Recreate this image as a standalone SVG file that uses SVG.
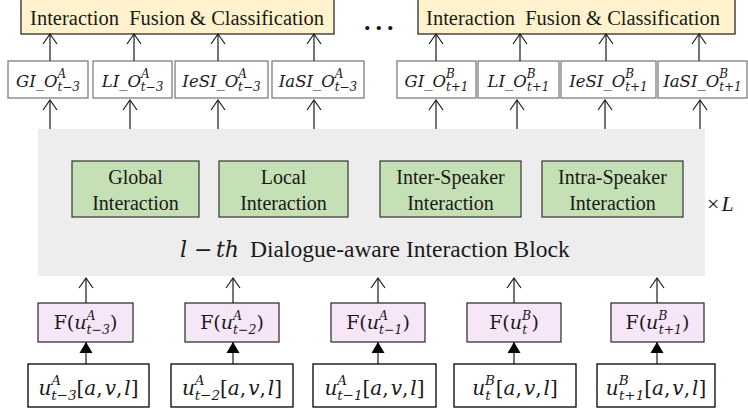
<svg xmlns="http://www.w3.org/2000/svg" width="748" height="410" viewBox="0 0 748 410">
<style>
.bg{fill:#ffffff}
.blk{fill:#ededed;stroke:none}
.fus{fill:#fff2cc;stroke:#1a1a1a;stroke-width:1.2}
.obox{fill:#ffffff;stroke:#7f7f7f;stroke-width:1.3}
.grn{fill:#c5e0b4;stroke:#333333;stroke-width:1.2}
.fbox{fill:#f7e6f7;stroke:#262626;stroke-width:1.2}
.ibox{fill:#ffffff;stroke:#000000;stroke-width:1.3}
.t{font-family:"Liberation Serif","Times New Roman",serif;fill:#1a1a1a}
.m{font-family:"DejaVu Serif",serif;fill:#1a1a1a}
.i{font-style:italic}
.c{text-anchor:middle}
.conn line{stroke:#1a1a1a;stroke-width:1.2}
.open{marker-end:url(#openArrow)}
.fill{marker-end:url(#fillArrow)}
</style>
<defs>
<marker id="openArrow" markerUnits="userSpaceOnUse" markerWidth="20" markerHeight="20" refX="0" refY="0" orient="auto" overflow="visible">
<path d="M-10,-7 L0,0 L-10,7" fill="none" stroke="#1a1a1a" stroke-width="1.2"/>
</marker>
<marker id="fillArrow" markerUnits="userSpaceOnUse" markerWidth="20" markerHeight="20" refX="0" refY="0" orient="auto" overflow="visible">
<path d="M-11,-6.5 L0,0 L-11,6.5 Z" fill="#000000"/>
</marker>
</defs>
<rect class="bg" x="0" y="0" width="748" height="410"/>

<g id="block">
<rect class="blk" x="38" y="129" width="667" height="147"/>
<text class="m i" x="180" y="257" font-size="22">l</text>
<text class="m" x="194" y="257" font-size="22">−</text>
<text class="m i" x="216" y="257" font-size="22">th</text>
<text class="t" x="250" y="257" font-size="23.5">Dialogue-aware Interaction Block</text>
</g>
<g id="timesL">
<text class="t" x="707" y="211" font-size="22">×<tspan class="i" dx="2">L</tspan></text>
</g>

<g id="fusionA">
<rect class="fus" x="21" y="-2" width="313" height="36"/>
<text class="t c" x="177" y="25" font-size="20.5" xml:space="preserve">Interaction  Fusion &amp; Classification</text>
</g>
<g id="dots">
<text class="t" x="364" y="30" font-size="26" font-weight="bold" letter-spacing="5">...</text>
</g>
<g id="fusionB">
<rect class="fus" x="418" y="-2" width="317" height="36"/>
<text class="t c" x="573" y="25" font-size="20.5" xml:space="preserve">Interaction  Fusion &amp; Classification</text>
</g>

<g id="oA1"><rect class="obox" x="8" y="61" width="80" height="37"/>
<text class="m i c" x="48" y="87" font-size="16.5">GI_O<tspan font-size="12" dy="-9">A</tspan><tspan font-size="12" dx="-8.6" dy="13">t−3</tspan></text></g>
<g id="oA2"><rect class="obox" x="93" y="61" width="79" height="37"/>
<text class="m i c" x="132.5" y="87" font-size="16.5">LI_O<tspan font-size="12" dy="-9">A</tspan><tspan font-size="12" dx="-8.6" dy="13">t−3</tspan></text></g>
<g id="oA3"><rect class="obox" x="175" y="61" width="93" height="37"/>
<text class="m i c" x="221.5" y="87" font-size="16.5">IeSI_O<tspan font-size="12" dy="-9">A</tspan><tspan font-size="12" dx="-8.6" dy="13">t−3</tspan></text></g>
<g id="oA4"><rect class="obox" x="272" y="61" width="92" height="37"/>
<text class="m i c" x="318" y="87" font-size="16.5">IaSI_O<tspan font-size="12" dy="-9">A</tspan><tspan font-size="12" dx="-8.6" dy="13">t−3</tspan></text></g>

<g id="oB1"><rect class="obox" x="397" y="61" width="79" height="37"/>
<text class="m i c" x="436.5" y="87" font-size="16.5">GI_O<tspan font-size="12" dy="-9">B</tspan><tspan font-size="12" dx="-8.8" dy="13">t+1</tspan></text></g>
<g id="oB2"><rect class="obox" x="478" y="61" width="81" height="37"/>
<text class="m i c" x="518.5" y="87" font-size="16.5">LI_O<tspan font-size="12" dy="-9">B</tspan><tspan font-size="12" dx="-8.8" dy="13">t+1</tspan></text></g>
<g id="oB3"><rect class="obox" x="561" y="61" width="95" height="37"/>
<text class="m i c" x="608.5" y="87" font-size="16.5">IeSI_O<tspan font-size="12" dy="-9">B</tspan><tspan font-size="12" dx="-8.8" dy="13">t+1</tspan></text></g>
<g id="oB4"><rect class="obox" x="658" y="61" width="89" height="37"/>
<text class="m i c" x="702.5" y="87" font-size="16.5">IaSI_O<tspan font-size="12" dy="-9">B</tspan><tspan font-size="12" dx="-8.8" dy="13">t+1</tspan></text></g>

<g id="global"><rect class="grn" x="72" y="161" width="127" height="56"/>
<text class="t c" x="135.5" y="184" font-size="20">Global</text>
<text class="t c" x="135.5" y="210" font-size="20">Interaction</text></g>
<g id="local"><rect class="grn" x="219" y="161" width="129" height="56"/>
<text class="t c" x="283.5" y="184" font-size="20">Local</text>
<text class="t c" x="283.5" y="210" font-size="20">Interaction</text></g>
<g id="inter"><rect class="grn" x="380" y="161" width="141" height="56"/>
<text class="t c" x="450.5" y="184" font-size="20">Inter-Speaker</text>
<text class="t c" x="450.5" y="210" font-size="20">Interaction</text></g>
<g id="intra"><rect class="grn" x="542" y="161" width="141" height="56"/>
<text class="t c" x="612.5" y="184" font-size="20">Intra-Speaker</text>
<text class="t c" x="612.5" y="210" font-size="20">Interaction</text></g>

<g id="f1"><rect class="fbox" x="38" y="303" width="95" height="39"/>
<text class="m c" x="85.5" y="329" font-size="19">F(<tspan class="i">u</tspan><tspan class="i" font-size="12.5" dy="-9.5">A</tspan><tspan class="i" font-size="12.5" dx="-8.9" dy="14.5">t−3</tspan><tspan dy="-5">)</tspan></text></g>
<g id="f2"><rect class="fbox" x="185" y="303" width="94" height="39"/>
<text class="m c" x="232" y="329" font-size="19">F(<tspan class="i">u</tspan><tspan class="i" font-size="12.5" dy="-9.5">A</tspan><tspan class="i" font-size="12.5" dx="-8.9" dy="14.5">t−2</tspan><tspan dy="-5">)</tspan></text></g>
<g id="f3"><rect class="fbox" x="331" y="303" width="94" height="39"/>
<text class="m c" x="378" y="329" font-size="19">F(<tspan class="i">u</tspan><tspan class="i" font-size="12.5" dy="-9.5">A</tspan><tspan class="i" font-size="12.5" dx="-8.9" dy="14.5">t−1</tspan><tspan dy="-5">)</tspan></text></g>
<g id="f4"><rect class="fbox" x="467" y="303" width="94" height="39"/>
<text class="m c" x="514" y="329" font-size="19">F(<tspan class="i">u</tspan><tspan class="i" font-size="12.5" dy="-9.5">B</tspan><tspan class="i" font-size="12.5" dx="-8.9" dy="14.5">t</tspan><tspan dx="4" dy="-5">)</tspan></text></g>
<g id="f5"><rect class="fbox" x="611" y="303" width="93" height="39"/>
<text class="m c" x="657.5" y="329" font-size="19">F(<tspan class="i">u</tspan><tspan class="i" font-size="12.5" dy="-9.5">B</tspan><tspan class="i" font-size="12.5" dx="-8.9" dy="14.5">t+1</tspan><tspan dy="-5">)</tspan></text></g>

<g id="in1"><rect class="ibox" x="28" y="364" width="121" height="43"/>
<text class="m c" x="88.5" y="395" font-size="20"><tspan class="i">u</tspan><tspan class="i" font-size="13.5" dy="-10.5">A</tspan><tspan class="i" font-size="13.5" dx="-9.7" dy="15.5">t−3</tspan><tspan dy="-5">[</tspan><tspan class="i">a</tspan>,<tspan class="i" dx="2">v</tspan>,<tspan class="i" dx="2">l</tspan>]</text></g>
<g id="in2"><rect class="ibox" x="171" y="364" width="122" height="43"/>
<text class="m c" x="232" y="395" font-size="20"><tspan class="i">u</tspan><tspan class="i" font-size="13.5" dy="-10.5">A</tspan><tspan class="i" font-size="13.5" dx="-9.7" dy="15.5">t−2</tspan><tspan dy="-5">[</tspan><tspan class="i">a</tspan>,<tspan class="i" dx="2">v</tspan>,<tspan class="i" dx="2">l</tspan>]</text></g>
<g id="in3"><rect class="ibox" x="313" y="364" width="123" height="43"/>
<text class="m c" x="374.5" y="395" font-size="20"><tspan class="i">u</tspan><tspan class="i" font-size="13.5" dy="-10.5">A</tspan><tspan class="i" font-size="13.5" dx="-9.7" dy="15.5">t−1</tspan><tspan dy="-5">[</tspan><tspan class="i">a</tspan>,<tspan class="i" dx="2">v</tspan>,<tspan class="i" dx="2">l</tspan>]</text></g>
<g id="in4"><rect class="ibox" x="454" y="364" width="122" height="43"/>
<text class="m c" x="515" y="395" font-size="20"><tspan class="i">u</tspan><tspan class="i" font-size="13.5" dy="-10.5">B</tspan><tspan class="i" font-size="13.5" dx="-9.7" dy="15.5">t</tspan><tspan dx="5" dy="-5">[</tspan><tspan class="i">a</tspan>,<tspan class="i" dx="2">v</tspan>,<tspan class="i" dx="2">l</tspan>]</text></g>
<g id="in5"><rect class="ibox" x="597" y="364" width="118" height="43"/>
<text class="m c" x="656" y="395" font-size="20"><tspan class="i">u</tspan><tspan class="i" font-size="13.5" dy="-10.5">B</tspan><tspan class="i" font-size="13.5" dx="-9.7" dy="15.5">t+1</tspan><tspan dy="-5">[</tspan><tspan class="i">a</tspan>,<tspan class="i" dx="2">v</tspan>,<tspan class="i" dx="2">l</tspan>]</text></g>

<g id="connectors" class="conn">
<line class="open" x1="50" y1="61" x2="50" y2="34"/>
<line class="open" x1="134" y1="61" x2="134" y2="34"/>
<line class="open" x1="218" y1="61" x2="218" y2="34"/>
<line class="open" x1="314" y1="61" x2="314" y2="34"/>
<line class="open" x1="436" y1="61" x2="436" y2="34"/>
<line class="open" x1="520" y1="61" x2="520" y2="34"/>
<line class="open" x1="606" y1="61" x2="606" y2="34"/>
<line class="open" x1="699" y1="61" x2="699" y2="34"/>
<line class="open" x1="50" y1="129" x2="50" y2="100"/>
<line class="open" x1="130" y1="129" x2="130" y2="100"/>
<line class="open" x1="218" y1="129" x2="218" y2="100"/>
<line class="open" x1="314" y1="129" x2="314" y2="100"/>
<line class="open" x1="436" y1="129" x2="436" y2="100"/>
<line class="open" x1="517" y1="129" x2="517" y2="100"/>
<line class="open" x1="605" y1="129" x2="605" y2="100"/>
<line class="open" x1="700" y1="129" x2="700" y2="100"/>
<line class="open" x1="86" y1="303" x2="86" y2="278"/>
<line class="open" x1="233" y1="303" x2="233" y2="278"/>
<line class="open" x1="378" y1="303" x2="378" y2="278"/>
<line class="open" x1="514" y1="303" x2="514" y2="278"/>
<line class="open" x1="657" y1="303" x2="657" y2="278"/>
<line class="fill" x1="86" y1="364" x2="86" y2="342"/>
<line class="fill" x1="233" y1="364" x2="233" y2="342"/>
<line class="fill" x1="378" y1="364" x2="378" y2="342"/>
<line class="fill" x1="514" y1="364" x2="514" y2="342"/>
<line class="fill" x1="657" y1="364" x2="657" y2="342"/>
</g>
</svg>
